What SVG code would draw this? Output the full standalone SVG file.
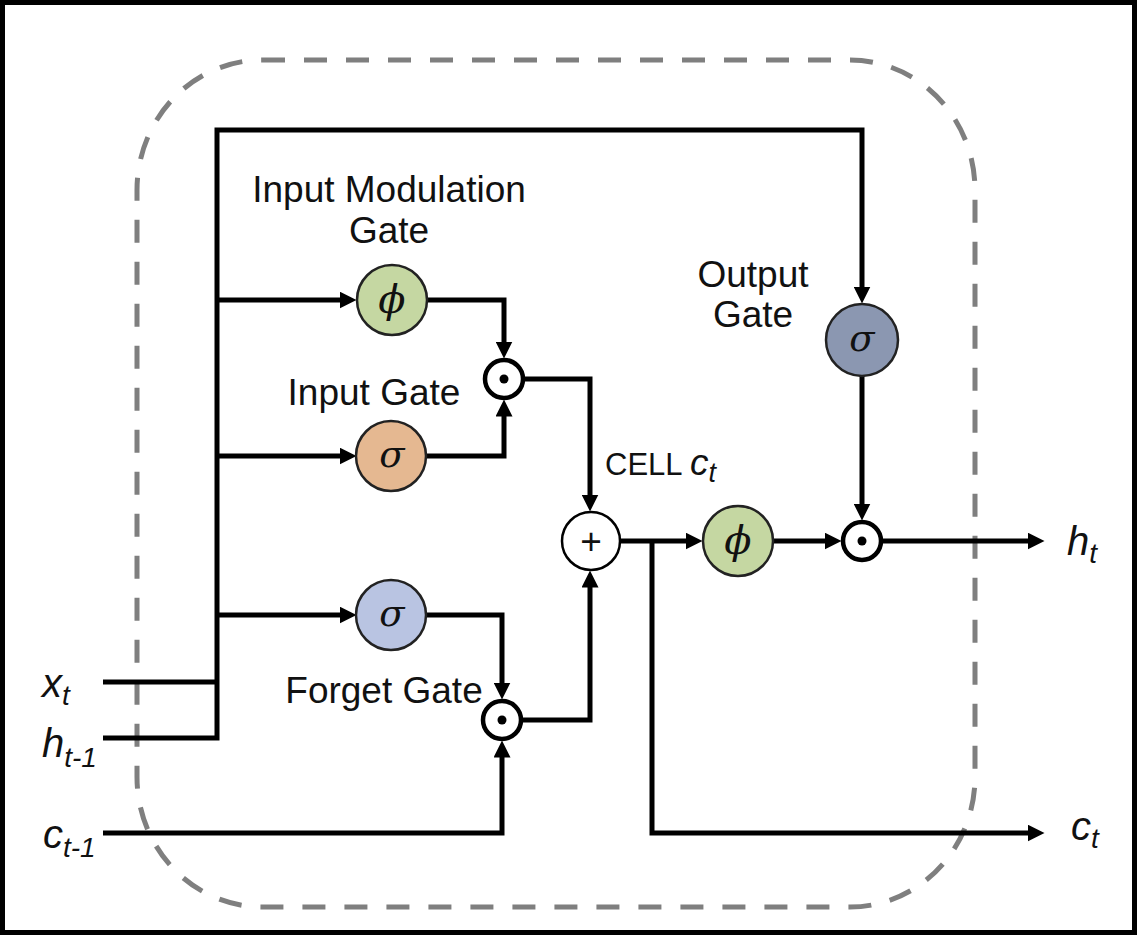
<svg xmlns="http://www.w3.org/2000/svg" width="1137" height="935" viewBox="0 0 1137 935">
<style>
.lbl{font-family:"Liberation Sans",Arial,sans-serif;font-size:37px;fill:#111;text-anchor:middle}
.math{font-family:"Liberation Sans",Arial,sans-serif;font-style:italic;font-size:40px;fill:#111}
.sub{font-size:28px}
.greek{font-family:"DejaVu Serif","Liberation Serif",serif;font-style:italic;font-size:37px;fill:#111;text-anchor:middle}
.phi{font-size:40px}
.gate{stroke:#222;stroke-width:2.5}
.mul{fill:#fff;stroke:#000;stroke-width:4.5}
.wire{fill:none;stroke:#000;stroke-width:5;stroke-linejoin:miter}
.arr{marker-end:url(#ah)}
</style>
<defs>
<marker id="ah" viewBox="0 0 17 17" markerWidth="17" markerHeight="17" markerUnits="userSpaceOnUse" refX="0.5" refY="8.5" orient="auto">
<path d="M0,0 L17,8.5 L0,17 z" fill="#000"/>
</marker>
</defs>
<rect x="0" y="0" width="1137" height="935" fill="#fff"/>
<rect x="2.5" y="2.5" width="1132" height="930" fill="none" stroke="#000" stroke-width="5"/>
<rect id="cell-boundary" x="137" y="60" width="838" height="847" rx="125" ry="130" fill="none" stroke="#7f7f7f" stroke-width="5" stroke-dasharray="23 19"/>

<g id="connectors">
<path class="wire" d="M103,682 H217"/>
<path class="wire arr" d="M103,738 H217 V130 H862 V287"/>
<path class="wire arr" d="M217,300 H340"/>
<path class="wire arr" d="M217,456 H340"/>
<path class="wire arr" d="M217,615 H340"/>
<path class="wire arr" d="M427,300 H504 V342"/>
<path class="wire arr" d="M427,456 H504 V416"/>
<path class="wire arr" d="M524,379 H590 V495"/>
<path class="wire arr" d="M427,615 H502 V683"/>
<path class="wire arr" d="M103,833 H502 V757"/>
<path class="wire arr" d="M522,720 H590 V587"/>
<path class="wire arr" d="M620,541 H686"/>
<path class="wire arr" d="M652,541 V833 H1028"/>
<path class="wire arr" d="M773,541 H825"/>
<path class="wire arr" d="M862,376 V504"/>
<path class="wire arr" d="M882,541 H1028"/>
</g>

<g id="input-modulation-gate">
<circle class="gate" cx="392" cy="300" r="35" fill="#c5d7a2"/>
<text class="greek phi" x="392" y="313">ϕ</text>
<text class="lbl" x="389" y="202">Input Modulation</text>
<text class="lbl" x="389" y="243">Gate</text>
</g>
<g id="input-gate">
<circle class="gate" cx="391" cy="456" r="35" fill="#e5b891"/>
<text class="greek" x="392" y="467">σ</text>
<text class="lbl" x="374" y="405">Input Gate</text>
</g>
<g id="forget-gate">
<circle class="gate" cx="391" cy="615" r="35" fill="#b9c4e2"/>
<text class="greek" x="392" y="626">σ</text>
<text class="lbl" x="384" y="703">Forget Gate</text>
</g>
<g id="output-gate">
<circle class="gate" cx="862" cy="340" r="36" fill="#8b97b1"/>
<text class="greek" x="862" y="351">σ</text>
<text class="lbl" x="753" y="287">Output</text>
<text class="lbl" x="753" y="327">Gate</text>
</g>
<g id="cell-tanh">
<circle class="gate" cx="738" cy="541" r="35" fill="#c5d7a2"/>
<text class="greek phi" x="738" y="554">ϕ</text>
</g>
<g id="mult-input">
<circle class="mul" cx="504" cy="379" r="19"/>
<circle cx="504" cy="379" r="4.5" fill="#000"/>
</g>
<g id="mult-forget">
<circle class="mul" cx="502" cy="720" r="19"/>
<circle cx="502" cy="720" r="4.5" fill="#000"/>
</g>
<g id="mult-output">
<circle class="mul" cx="862" cy="541" r="19"/>
<circle cx="862" cy="541" r="4.5" fill="#000"/>
</g>
<g id="cell-sum">
<circle cx="591" cy="541" r="29" fill="#fff" stroke="#000" stroke-width="2.5"/>
<text x="591" y="554" font-family="'Liberation Sans',Arial,sans-serif" font-size="37" text-anchor="middle" fill="#111">+</text>
<text x="605" y="475" font-family="'Liberation Sans',Arial,sans-serif" font-size="31" fill="#111">CELL <tspan font-style="italic" font-size="37">c</tspan><tspan font-style="italic" font-size="27" dy="7">t</tspan></text>
</g>

<g id="labels">
<text class="math" x="42" y="697">x<tspan class="sub" dy="8">t</tspan></text>
<text class="math" x="42" y="757">h<tspan class="sub" dy="10">t-1</tspan></text>
<text class="math" x="43" y="848">c<tspan class="sub" dy="9">t-1</tspan></text>
<text class="math" x="1067" y="555">h<tspan class="sub" dy="8">t</tspan></text>
<text class="math" x="1071" y="840">c<tspan class="sub" dy="8">t</tspan></text>
</g>
</svg>
